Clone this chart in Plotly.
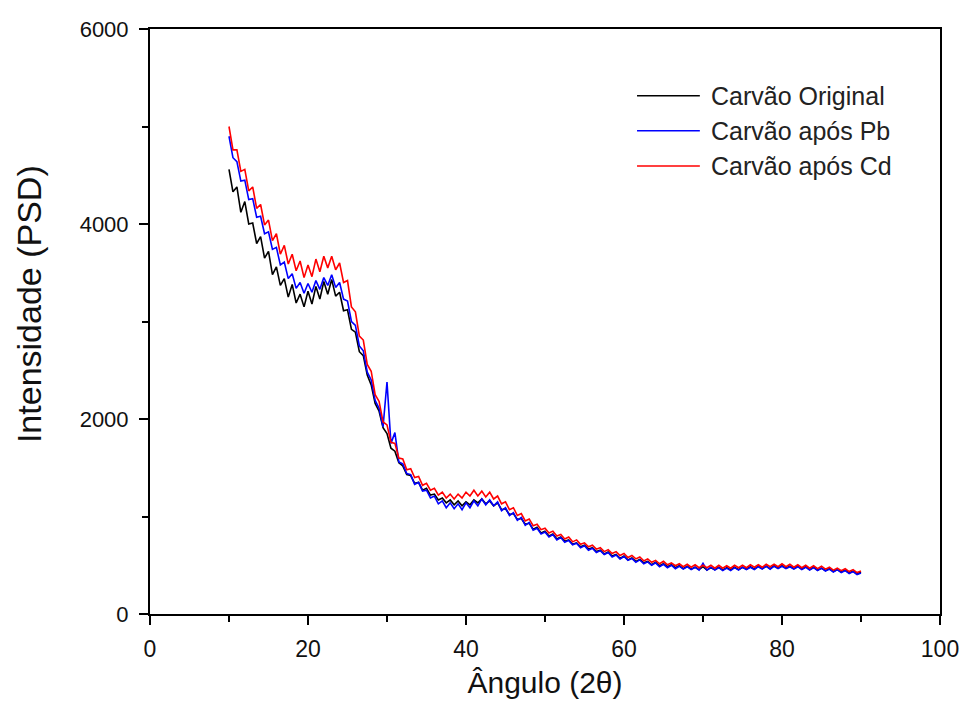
import plotly.graph_objects as go

# 2-theta grid (start 10, step 0.5, 161 points)
angle_start = 10.0
angle_step = 0.5

carvao_original = [
    4560, 4330, 4380, 4120, 4230, 4000, 4010, 3800, 3870, 3650,
    3720, 3480, 3560, 3370, 3440, 3250, 3380, 3190, 3280, 3150,
    3310, 3180, 3360, 3230, 3410, 3280, 3430, 3260, 3300, 3110,
    3120, 2920, 2890, 2690, 2650, 2450, 2350, 2160, 2080, 1910,
    1850, 1700, 1670, 1550, 1520, 1430, 1420, 1340, 1350, 1270,
    1290, 1220, 1230, 1170, 1190, 1140, 1170, 1120, 1160, 1110,
    1150, 1120, 1170, 1140, 1180, 1130, 1160, 1110, 1140, 1070,
    1080, 1020, 1030, 970, 980, 920, 930, 870, 890, 830,
    850, 800, 820, 770, 790, 745, 760, 715, 730, 690,
    705, 665, 680, 640, 655, 615, 635, 595, 610, 570,
    595, 555, 575, 540, 560, 525, 540, 505, 530, 495,
    515, 485, 505, 475, 495, 465, 490, 460, 480, 455,
    485, 450, 475, 455, 480, 450, 475, 455, 480, 455,
    480, 460, 485, 460, 490, 465, 490, 465, 495, 470,
    495, 470, 490, 465, 490, 460, 485, 455, 480, 450,
    470, 445, 465, 435, 455, 430, 450, 420, 440, 410,
    430,
]

carvao_pb = [
    4900, 4680, 4640, 4440, 4450, 4250, 4260, 4070, 4080, 3900,
    3920, 3740, 3760, 3580, 3610, 3440, 3490, 3340, 3400, 3290,
    3390, 3300, 3420, 3330, 3450, 3370, 3480, 3350, 3400, 3230,
    3210, 3000, 2960, 2750, 2700, 2480, 2400, 2190, 2110, 1920,
    2380, 1750, 1860, 1560, 1540, 1440, 1430, 1330, 1350, 1260,
    1270, 1190, 1210, 1130, 1160, 1090, 1140, 1080, 1130, 1070,
    1140, 1090, 1160, 1110, 1180, 1120, 1170, 1110, 1150, 1060,
    1090, 1010, 1040, 960, 990, 910, 940, 860, 880, 820,
    840, 790, 815, 760, 785, 735, 755, 710, 725, 680,
    700, 655, 675, 630, 650, 610, 630, 585, 605, 565,
    590, 550, 570, 530, 555, 515, 535, 500, 525, 485,
    510, 475, 500, 465, 490, 460, 485, 455, 480, 450,
    520, 450, 480, 450, 475, 445, 470, 445, 475, 450,
    480, 455, 480, 455, 485, 460, 490, 460, 490, 465,
    490, 465, 485, 460, 485, 455, 480, 450, 475, 445,
    470, 440, 460, 430, 455, 425, 445, 415, 435, 405,
    420,
]

carvao_cd = [
    5000, 4760, 4760, 4540, 4560, 4340, 4380, 4160, 4200, 3990,
    4040, 3830, 3900, 3690, 3780, 3590, 3690, 3520, 3620, 3450,
    3580, 3460, 3640, 3510, 3670, 3550, 3670, 3530, 3600, 3400,
    3420, 3150, 3100, 2850, 2810, 2560, 2490, 2250, 2180, 1970,
    1940, 1760, 1750, 1600, 1590, 1480, 1490, 1400, 1410, 1320,
    1340, 1270, 1290, 1220, 1250, 1190, 1230, 1180, 1230, 1190,
    1250, 1210, 1270, 1210, 1260, 1200, 1250, 1180, 1210, 1130,
    1150, 1070, 1090, 1010, 1030, 955, 975, 905, 920, 865,
    880, 830, 850, 800, 815, 770, 790, 740, 760, 715,
    730, 690, 705, 665, 680, 640, 660, 620, 640, 600,
    620, 580, 600, 565, 585, 545, 565, 530, 550, 515,
    540, 505, 525, 495, 515, 485, 510, 480, 505, 475,
    500, 475, 500, 470, 500, 470, 495, 470, 500, 475,
    500, 475, 505, 480, 505, 480, 510, 485, 510, 485,
    515, 485, 510, 480, 505, 475, 500, 470, 495, 465,
    490, 460, 480, 450, 470, 445, 465, 435, 455, 425,
    440,
]

series_names = ["Carvão Original", "Carvão após Pb", "Carvão após Cd"]
series_colors = ["#000000", "#0000FF", "#FF0000"]
series_values = [carvao_original, carvao_pb, carvao_cd]

x_ticks = [0, 20, 40, 60, 80, 100]
y_ticks = [0, 2000, 4000, 6000]

angles = [angle_start + angle_step * i for i in range(len(carvao_original))]

FONT = "Liberation Sans, Arial, sans-serif"

fig = go.Figure()
for name, color, vals in zip(series_names, series_colors, series_values):
    fig.add_trace(go.Scatter(x=angles, y=vals, mode="lines", name=name,
                             line=dict(color=color, width=1.6),
                             showlegend=False))

# manual legend (long line samples like the original)
leg_y = [0.886, 0.826, 0.766]
for name, color, yy in zip(series_names, series_colors, leg_y):
    fig.add_shape(type="line", xref="paper", yref="paper",
                  x0=0.6165, x1=0.696, y0=yy, y1=yy,
                  line=dict(color=color, width=1.5))
    fig.add_annotation(xref="paper", yref="paper", x=0.708, y=yy,
                       text=name, showarrow=False, xanchor="left",
                       yanchor="middle",
                       font=dict(family=FONT, size=25, color="#222222"))

# y-axis title (placed like the original, slightly above centre)
fig.add_annotation(xref="paper", yref="paper", x=-0.153, y=0.53,
                   text="Intensidade (PSD)", textangle=-90, showarrow=False,
                   xanchor="center", yanchor="middle",
                   font=dict(family=FONT, size=34, color="#111111"))

fig.update_layout(
    width=963, height=704,
    margin=dict(l=150, r=23, t=29, b=90),
    paper_bgcolor="white", plot_bgcolor="white",
    showlegend=False,
)
fig.update_xaxes(
    range=[0, 100], tickvals=x_ticks, ticktext=[str(v) for v in x_ticks],
    showgrid=False, zeroline=False, automargin=False,
    showline=True, linecolor="black", linewidth=2, mirror=True,
    ticks="outside", ticklen=9, tickwidth=2, tickcolor="black",
    minor=dict(ticks="outside", dtick=10, tick0=0, ticklen=6, tickwidth=2, tickcolor="black"),
    tickfont=dict(family=FONT, size=23, color="#111111"),
    ticklabelstandoff=4,
    title=dict(text="Ângulo (2θ)", font=dict(family=FONT, size=30, color="#111111"), standoff=11),
)
fig.update_yaxes(
    range=[0, 6000], tickvals=y_ticks, ticktext=[str(v) for v in y_ticks],
    showgrid=False, zeroline=False, automargin=False,
    showline=True, linecolor="black", linewidth=2, mirror=True,
    ticks="outside", ticklen=9, tickwidth=2, tickcolor="black",
    minor=dict(ticks="outside", dtick=1000, tick0=0, ticklen=6, tickwidth=2, tickcolor="black"),
    tickfont=dict(family=FONT, size=22, color="#111111"),
    ticklabelstandoff=6,
)

fig.write_html("out.html")
